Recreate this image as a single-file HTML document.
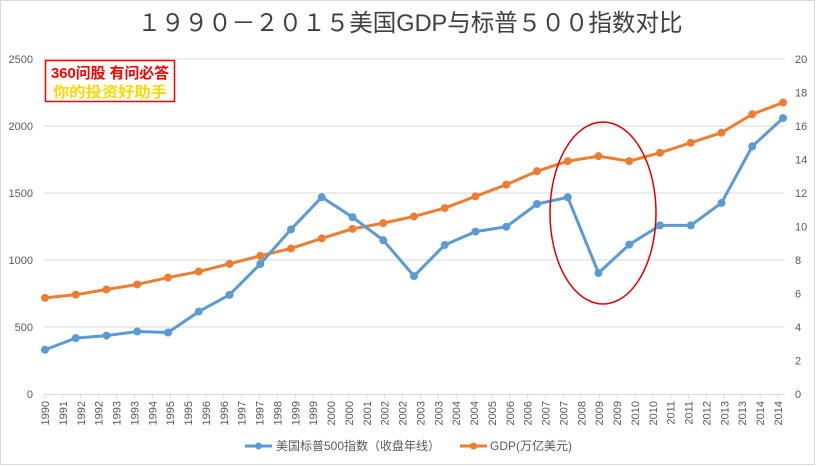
<!DOCTYPE html>
<html><head><meta charset="utf-8"><style>
html,body{margin:0;padding:0;background:#fff}
svg{display:block;font-family:"Liberation Sans","Noto Sans CJK SC",sans-serif}
</style></head><body>
<svg id="c" width="816" height="466" viewBox="0 0 816 466">
<rect x="0.5" y="0.5" width="814" height="464" fill="#fff" stroke="#d9d9d9"/>
<text x="410" y="31" text-anchor="middle" font-size="24" fill="#404040" textLength="545" lengthAdjust="spacingAndGlyphs">１９９０－２０１５美国GDP与标普５００指数对比</text>
<g id="grid"></g><g id="axes"></g><g id="series"></g>
<ellipse cx="603" cy="213" rx="53" ry="91" fill="none" stroke="#e00000" stroke-width="1.5"/>
<g>
<rect x="45.5" y="60.5" width="129" height="41" fill="#fff" stroke="#ff0000" stroke-width="1.5"/>
<text x="110" y="78" text-anchor="middle" font-size="15" font-weight="bold" fill="#ff0000" textLength="118" lengthAdjust="spacingAndGlyphs">360问股 有问必答</text>
<text x="110" y="97" text-anchor="middle" font-size="15" font-weight="bold" fill="#ffd700" textLength="114" lengthAdjust="spacingAndGlyphs">你的投资好助手</text>
</g>
<g>
<g><line x1="245" y1="446" x2="272" y2="446" stroke="#5b9bd5" stroke-width="3"/><circle cx="258.5" cy="446" r="3.5" fill="#5b9bd5"/><text x="276" y="450" font-size="12" fill="#595959">美国标普500指数（收盘年线）</text></g>
<g><line x1="460" y1="446" x2="487" y2="446" stroke="#ed7d31" stroke-width="3"/><circle cx="473.5" cy="446" r="3.5" fill="#ed7d31"/><text x="490" y="450" font-size="12" fill="#595959">GDP(万亿美元)</text></g>
</g>
</svg>
<script>
const years=[1990,1991,1992,1993,1994,1995,1996,1997,1998,1999,2000,2001,2002,2003,2004,2005,2006,2007,2008,2009,2010,2011,2012,2013,2014];
const sp500=[330,417,436,466,459,615,740,970,1229,1469,1320,1148,880,1112,1212,1248,1418,1468,903,1115,1258,1258,1426,1848,2059];
const gdp=[5.74,5.93,6.24,6.54,6.95,7.31,7.77,8.25,8.69,9.29,9.86,10.2,10.6,11.1,11.8,12.5,13.3,13.9,14.2,13.9,14.4,15.0,15.6,16.7,17.4];
const leftTicks=[0,500,1000,1500,2000,2500];
const rightTicks=[0,2,4,6,8,10,12,14,16,18,20];
const xLabels=["1990","1991","1992","1992","1993","1993","1994","1995","1995","1996","1996","1997","1997","1998","1999","1999","2000","2000","2001","2002","2002","2003","2003","2004","2004","2005","2006","2006","2007","2007","2008","2009","2009","2010","2010","2011","2011","2012","2013","2013","2014","2014"];
const NS="http://www.w3.org/2000/svg";
const X0=45,X1=783,Y0=394,Y1=59;
const xs=i=>X0+(X1-X0)*i/(years.length-1);
const yl=v=>Y0-(Y0-Y1)*v/2500;
const yr=v=>Y0-(Y0-Y1)*v/20;
function mk(t,a,p){const e=document.createElementNS(NS,t);for(const k in a)e.setAttribute(k,a[k]);p.appendChild(e);return e;}
const grid=document.getElementById('grid'),axes=document.getElementById('axes'),ser=document.getElementById('series');
leftTicks.forEach(v=>{
  if(v>0){const g=mk('line',{x1:44,x2:785,y1:yl(v),y2:yl(v),stroke:'#d9d9d9','stroke-width':1},grid);
  
  }
  const t=mk('text',{x:33,y:yl(v)+4,'text-anchor':'end','font-size':11,fill:'#595959'},axes);t.textContent=v;
  
  
});
rightTicks.forEach(v=>{
  const t=mk('text',{x:795,y:yr(v)+4,'font-size':11,fill:'#595959'},axes);t.textContent=v;
  
  
});
const ax=mk('line',{x1:44,x2:785,y1:Y0+0.5,y2:Y0+0.5,stroke:'#d9d9d9'},axes);


const step=(778-45)/(xLabels.length-1);
xLabels.forEach((l,i)=>{
  const x=45+step*i;
  mk('line',{x1:x,x2:x,y1:Y0,y2:Y0+5,stroke:'#d9d9d9'},axes);
  const t=mk('text',{transform:`translate(${x+4},401) rotate(-90)`,'text-anchor':'end','font-size':11,fill:'#595959'},axes);t.textContent=l;
  
  
});
function line(vals,f,col,name){
  const p=mk('polyline',{points:vals.map((v,i)=>xs(i)+','+f(v)).join(' '),fill:'none',stroke:col,'stroke-width':3,'stroke-linejoin':'round'},ser);
  
  
  vals.forEach((v,i)=>{const c=mk('circle',{cx:xs(i),cy:f(v),r:4,fill:col},ser);
  
  });
}
line(gdp,yr,'#ed7d31','gdp');
line(sp500,yl,'#5b9bd5','sp500');
</script>
</body></html>
